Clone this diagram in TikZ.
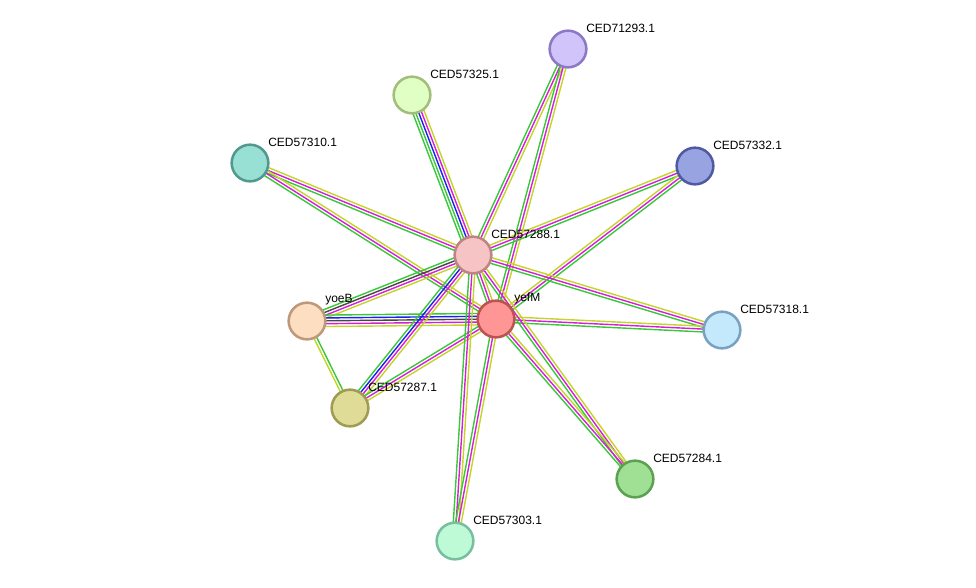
\documentclass[tikz,border=0pt]{standalone}
\usepackage{fontspec}
\setmainfont{Liberation Sans}
\usetikzlibrary{calc,backgrounds}
\definecolor{eg}{RGB}{56,200,56}
\definecolor{em}{RGB}{214,30,214}
\definecolor{ey}{RGB}{196,212,40}
\definecolor{eb}{RGB}{30,30,240}
\definecolor{ek}{RGB}{70,70,70}
\tikzset{
  prot/.style={circle, minimum size=27.5pt, inner sep=0pt, line width=1.9pt},
  lbl/.style={anchor=west, inner sep=0pt, font=\fontsize{9pt}{10pt}\selectfont, text=black},
  elin/.style={line width=1.05pt}
}
\newcommand\sedge[4]{%
  \foreach \c [count=\i] in {#4}{%
    \pgfmathsetmacro\off{(\i-(#3+1)/2)*2.15}%
    \draw[elin, draw=\c] ($(#1)!\off pt!90:(#2)$) -- ($(#2)!\off pt!-90:(#1)$);
  }%
}
\begin{document}
\begin{tikzpicture}[x=0.75pt, y=-0.75pt]
\useasboundingbox (0,0) rectangle (976,587);
\node[prot, fill={rgb,255:red,208;green,196;blue,250}, draw={rgb,255:red,140;green,120;blue,196}] (n71293) at (568,49) {};
\node[prot, fill={rgb,255:red,224;green,255;blue,196}, draw={rgb,255:red,162;green,190;blue,122}] (n57325) at (412,95) {};
\node[prot, fill={rgb,255:red,152;green,224;blue,212}, draw={rgb,255:red,82;green,152;blue,142}] (n57310) at (250,163) {};
\node[prot, fill={rgb,255:red,152;green,164;blue,226}, draw={rgb,255:red,80;green,90;blue,160}] (n57332) at (695,166) {};
\node[prot, fill={rgb,255:red,246;green,196;blue,196}, draw={rgb,255:red,190;green,132;blue,132}] (n57288) at (473,255) {};
\node[prot, fill={rgb,255:red,254;green,222;blue,192}, draw={rgb,255:red,190;green,152;blue,122}] (yoeB) at (307,321) {};
\node[prot, fill={rgb,255:red,255;green,150;blue,150}, draw={rgb,255:red,190;green,82;blue,82}] (yefM) at (496,319) {};
\node[prot, fill={rgb,255:red,196;green,232;blue,252}, draw={rgb,255:red,122;green,162;blue,192}] (n57318) at (722,330) {};
\node[prot, fill={rgb,255:red,222;green,220;blue,150}, draw={rgb,255:red,160;green,155;blue,82}] (n57287) at (350,408) {};
\node[prot, fill={rgb,255:red,160;green,224;blue,148}, draw={rgb,255:red,92;green,160;blue,82}] (n57284) at (635,479) {};
\node[prot, fill={rgb,255:red,190;green,250;blue,214}, draw={rgb,255:red,122;green,190;blue,160}] (n57303) at (455,541) {};

\begin{scope}[on background layer]
\sedge{n57325}{n57288}{5}{eg,eg,eb,em,ey}
\sedge{n71293}{n57288}{3}{eg,em,ey}
\sedge{n71293}{yefM}{3}{eg,em,ey}
\sedge{n57310}{n57288}{3}{eg,em,ey}
\sedge{n57310}{yefM}{3}{eg,em,ey}
\sedge{n57332}{n57288}{3}{ey,em,eg}
\sedge{n57332}{yefM}{3}{ey,em,eg}
\sedge{n57288}{n57318}{3}{eg,em,ey}
\sedge{yefM}{n57318}{3}{eg,em,ey}
\sedge{n57288}{yoeB}{4}{eg,ek,em,ey}
\sedge{yoeB}{yefM}{5}{ey,em,ek,eb,eg}
\sedge{yoeB}{n57287}{2}{ey,eg}
\sedge{n57288}{n57287}{4}{eg,eb,em,ey}
\sedge{yefM}{n57287}{3}{eg,em,ey}
\sedge{n57288}{n57303}{3}{eg,em,ey}
\sedge{yefM}{n57303}{3}{eg,em,ey}
\sedge{n57288}{n57284}{3}{eg,em,ey}
\sedge{yefM}{n57284}{3}{eg,em,ey}
\sedge{n57288}{yefM}{3}{eg,em,ey}
\end{scope}

\node[lbl] (l71293) at ($(n71293)+(18,-21)$) {CED71293.1};
\node[lbl] (l57325) at ($(n57325)+(18,-21)$) {CED57325.1};
\node[lbl] (l57310) at ($(n57310)+(18,-21)$) {CED57310.1};
\node[lbl] (l57332) at ($(n57332)+(18,-21)$) {CED57332.1};
\node[lbl] (l57288) at ($(n57288)+(18,-21)$) {CED57288.1};
\node[lbl] (lyoeB) at ($(yoeB)+(18,-21)$) {yoeB};
\node[lbl] (lyefM) at ($(yefM)+(18,-21)$) {yefM};
\node[lbl] (l57318) at ($(n57318)+(18,-21)$) {CED57318.1};
\node[lbl] (l57287) at ($(n57287)+(18,-21)$) {CED57287.1};
\node[lbl] (l57284) at ($(n57284)+(18,-21)$) {CED57284.1};
\node[lbl] (l57303) at ($(n57303)+(18,-21)$) {CED57303.1};
\end{tikzpicture}
\end{document}
